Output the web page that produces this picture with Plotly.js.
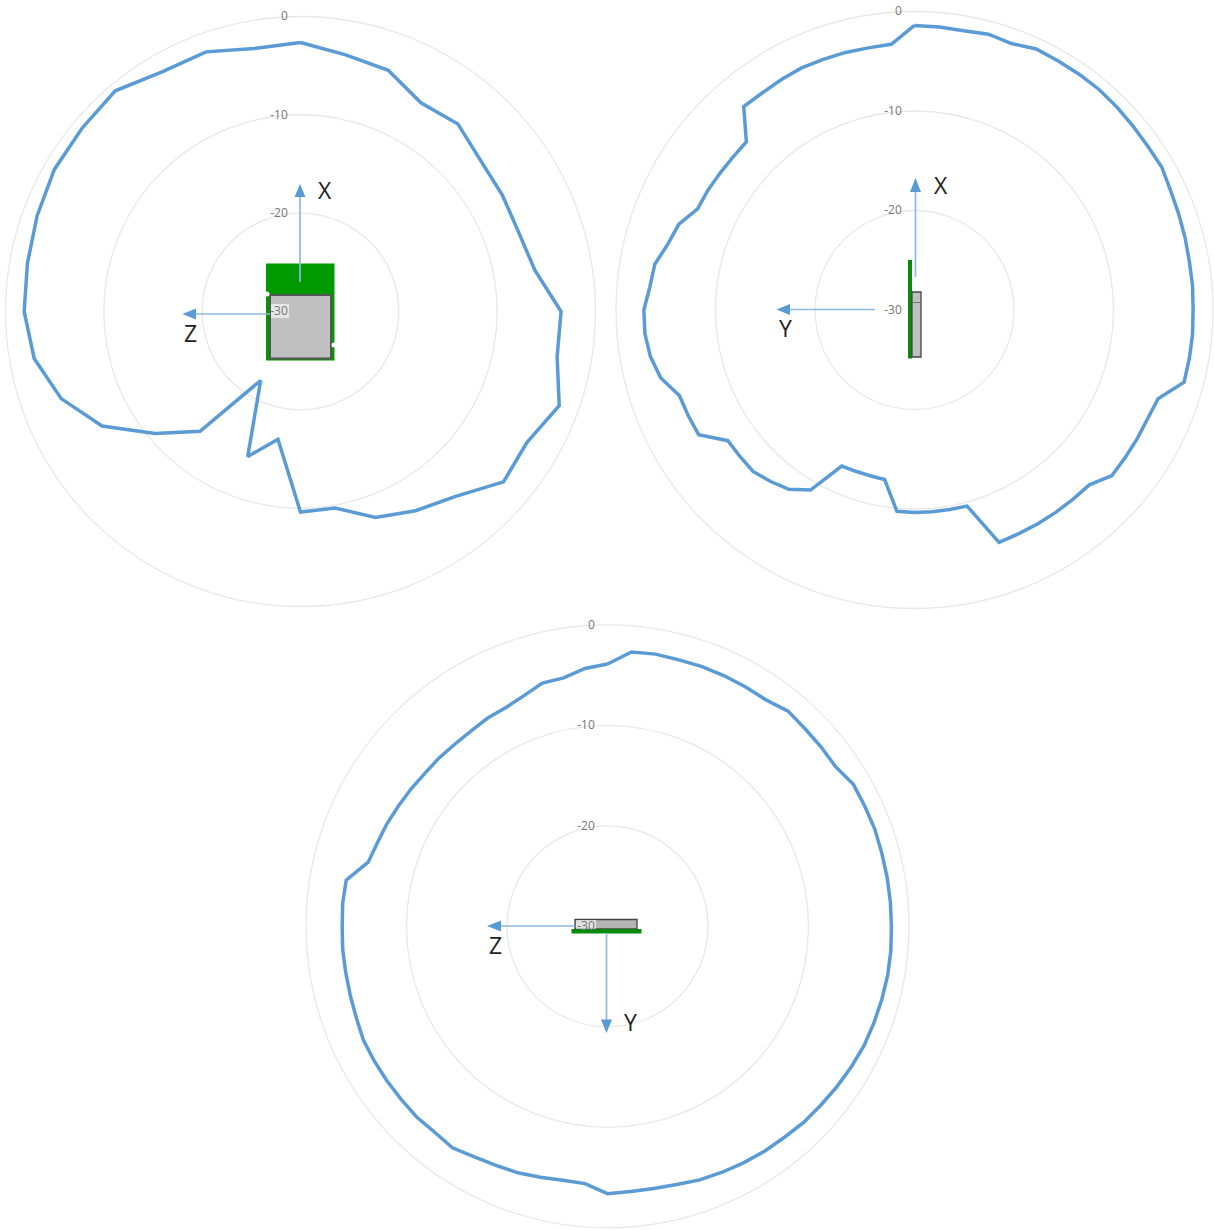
<!DOCTYPE html>
<html>
<head>
<meta charset="utf-8">
<script src="https://cdn.plot.ly/plotly-3.0.1.min.js"></script>
<style>html,body{margin:0;padding:0;background:#fff}#chart{width:1214px;height:1230px}</style>
</head>
<body>
<div id="chart"></div>
<script>
const tickValues = [-30, -20, -10, 0];
const tickLabels = ['-30', '-20', '-10', '0'];

const anglesTen = [0,10,20,30,40,50,60,70,80,90,100,110,120,130,140,150,160,170,180,190,200,210,220,230,240,250,260,270,280,290,300,310,320,330,340,350,0];
const anglesFive = [0,5,10,15,20,25,30,35,40,45,50,55,60,65,70,75,80,85,90,95,100,105,110,115,120,125,130,135,140,145,150,155,160,165,170,175,180,185,190,195,200,205,210,215,220,225,230,235,240,245,250,255,260,265,270,275,280,285,290,295,300,305,310,315,320,325,330,335,340,345,350,355,0];

const gainXZ = [-2.65,-3.5,-3.9,-5.5,-5.1,-6.1,-6.3,-6.4,-5.8,-3.5,-3.5,-2.0,-3.4,-3.05,-5.45,-6.6,-7.7,-9.7,-9.6,-16.8,-14.3,-21.9,-14.1,-10.7,-6.7,-4.1,-2.5,-1.9,-1.8,-1.5,-1.1,-1.0,-0.7,-1.85,-1.9,-2.85,-2.65];

const gainXY = [-1.4,-1.45,-1.5,-1.3,-1.5,-1.05,-1.1,-1.1,-1.1,-1.2,-1.3,-1.35,-1.3,-1.6,-1.75,-1.85,-1.95,-1.95,-2.0,-1.95,-1.95,-1.95,-3.95,-4.15,-4.15,-4.15,-4.1,-5.15,-5.2,-5.2,-5.2,-5.2,-5.15,-9.6,-9.65,-9.65,-9.65,-9.7,-12.7,-12.75,-12.75,-12.7,-9.1,-8.0,-7.5,-7.05,-7.1,-7.1,-4.95,-4.9,-4.85,-3.6,-3.05,-2.8,-2.8,-3.3,-3.5,-4.35,-4.8,-5.95,-6.0,-6.1,-6.15,-6.1,-3.3,-3.35,-3.25,-3.15,-3.2,-3.2,-3.25,-3.2,-1.4];

const gainYZ = [-3.9,-2.6,-2.5,-2.55,-2.5,-2.5,-2.5,-2.5,-2.05,-2.2,-2.25,-2.3,-1.75,-1.75,-1.7,-1.75,-1.75,-1.75,-1.75,-1.7,-1.7,-1.75,-1.8,-1.85,-2.0,-2.15,-2.3,-2.4,-2.6,-2.7,-2.85,-3.0,-3.15,-3.4,-3.5,-3.5,-3.4,-4.3,-4.35,-4.15,-3.9,-3.75,-3.5,-3.1,-3.25,-3.15,-3.2,-3.2,-3.2,-3.2,-3.4,-3.5,-3.55,-3.55,-3.6,-3.55,-3.6,-5.35,-5.65,-5.8,-6.0,-6.15,-6.3,-6.3,-6.35,-6.3,-6.1,-6.0,-5.6,-4.95,-4.9,-4.25,-3.9];

const W = 1214, H = 1230;
const px = x => x / W;
const py = y => 1 - y / H;

const LINE = '#5B9BD5', ARROW = '#8FB9E2', GRID = '#E8E8E8', GREEN = '#009A00', GREY = '#C0C0C0', DARK = '#555555';

function polarAxis(cx, cy, R) {
  return {
    domain: { x: [px(cx - R), px(cx + R)], y: [py(cy + R), py(cy - R)] },
    bgcolor: 'rgba(0,0,0,0)',
    radialaxis: {
      range: [-30, 0], angle: 90, side: 'counterclockwise', tickangle: 90,
      tickmode: 'array', tickvals: tickValues, ticktext: tickLabels,
      showline: false, ticks: 'outside', ticklen: 8, tickcolor: 'rgba(0,0,0,0)',
      gridcolor: GRID, gridwidth: 1.3,
      tickfont: { family: 'Open Sans, sans-serif', size: 12, color: '#767676' }
    },
    angularaxis: {
      rotation: 90, direction: 'clockwise',
      showgrid: false, ticks: '', showticklabels: false,
      showline: true, linecolor: GRID, linewidth: 1.3
    }
  };
}

function trace(theta, r, id) {
  return { type: 'scatterpolar', mode: 'lines', subplot: id, theta, r,
    line: { color: LINE, width: 3.5, shape: 'linear' }, hoverinfo: 'skip' };
}

function rect(x0, y0, x1, y1, fill, lineColor, lw) {
  return { type: 'rect', layer: 'below', xref: 'paper', yref: 'paper',
    x0: px(x0), x1: px(x1), y0: py(y1), y1: py(y0),
    fillcolor: fill, line: { color: lineColor || 'rgba(0,0,0,0)', width: lw || 0 } };
}
function notch(x, y) {
  return { type: 'circle', layer: 'below', xref: 'paper', yref: 'paper',
    x0: px(x - 2.5), x1: px(x + 2.5), y0: py(y + 2.5), y1: py(y - 2.5),
    fillcolor: '#ffffff', line: { width: 0 } };
}
function seg(x0, y0, x1, y1) {
  return { type: 'line', layer: 'above', xref: 'paper', yref: 'paper',
    x0: px(x0), x1: px(x1), y0: py(y0), y1: py(y1), line: { color: ARROW, width: 1.7 } };
}
function head(tx, ty, bx, by) {
  const hw = 5.5;
  const vert = tx === bx;
  const a = vert ? [bx - hw, by] : [bx, by - hw];
  const b = vert ? [bx + hw, by] : [bx, by + hw];
  const P = p => `${px(p[0])} ${py(p[1])}`;
  return { type: 'path', layer: 'above', xref: 'paper', yref: 'paper',
    path: `M ${P([tx, ty])} L ${P(a)} L ${P(b)} Z`,
    fillcolor: LINE, line: { width: 0, color: LINE } };
}
function label(text, x, y) {
  return { text, xref: 'paper', yref: 'paper', x: px(x), y: py(y), showarrow: false,
    xanchor: 'center', yanchor: 'middle',
    font: { family: 'Open Sans, sans-serif', size: 23, color: '#222222' } };
}

const shapes = [
  // left chart: module seen from above
  rect(266, 263.5, 334.5, 360.5, GREEN),
  rect(270, 295, 331, 358.5, GREY, DARK, 2),
  notch(267, 294), notch(334, 345),
  rect(271, 304, 289, 318, 'rgba(255,255,255,0.6)'),
  seg(300, 282, 300, 196), head(300, 184, 300, 197),
  seg(270, 314, 195, 314), head(182.5, 314, 196, 314),
  // right chart: module seen from the side
  rect(908, 260, 912, 358.5, '#0A8A0A'),
  rect(912, 292, 921, 357, GREY, '#444444', 1.3),
  rect(912, 302, 921, 303, '#777777'),
  seg(915.5, 277, 915.5, 191), head(915.5, 178, 915.5, 192),
  seg(875, 309.5, 789, 309.5), head(776.5, 309.5, 790, 309.5),
  // bottom chart: module seen end on
  rect(575, 919.5, 637, 929, '#B4B4B4', '#444444', 1.3),
  rect(576, 920, 596, 930, 'rgba(255,255,255,0.6)'),
  rect(571.5, 929, 641.5, 933.5, '#0A8A0A'),
  seg(575, 926, 500, 926), head(487, 926, 501, 926),
  seg(606.5, 933, 606.5, 1020), head(606.5, 1033, 606.5, 1019.5)
];

const annotations = [
  label('X', 324.5, 190), label('Z', 190.5, 333),
  label('X', 940.5, 184.5), label('Y', 785, 328),
  label('Z', 495, 945), label('Y', 630, 1022)
];

const layout = {
  width: W, height: H, margin: { l: 0, r: 0, t: 0, b: 0 },
  paper_bgcolor: '#ffffff', showlegend: false,
  polar: polarAxis(300.5, 311.5, 295),
  polar2: polarAxis(914.5, 310, 298.5),
  polar3: polarAxis(607.5, 926.3, 301.5),
  shapes, annotations
};

Plotly.newPlot('chart', [
  trace(anglesTen, gainXZ, 'polar'),
  trace(anglesFive, gainXY, 'polar2'),
  trace(anglesFive, gainYZ, 'polar3')
], layout, { staticPlot: true, displayModeBar: false });
</script>
</body>
</html>
